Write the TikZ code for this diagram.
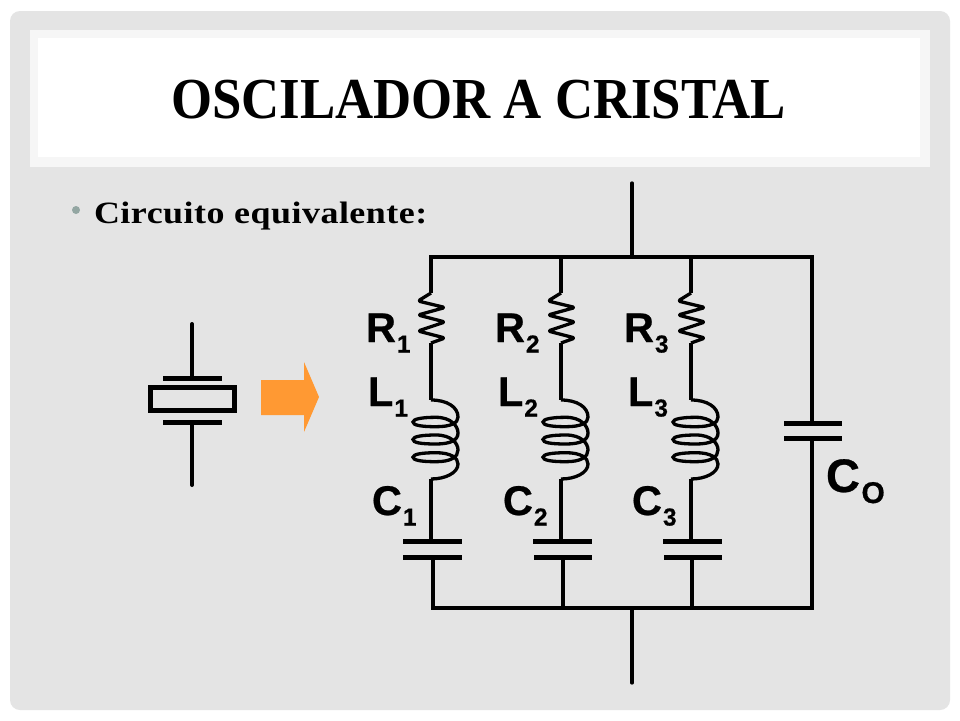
\documentclass[tikz,border=0pt]{standalone}
\usepackage{fontspec}
\setmainfont{Liberation Serif}
\setsansfont{Liberation Sans}
\newfontfamily\titlefont[FakeStretch=0.91]{Liberation Serif}
\newfontfamily\subfont[FakeStretch=1.16,LetterSpace=1.6]{Liberation Serif}
\newfontfamily\labfont[FakeBold=0.6]{Liberation Sans Bold}
\newcommand{\lab}[2]{{\fontsize{41.5}{41.5}\selectfont\labfont #1\kern 1pt\raisebox{-10.5pt}{\fontsize{24.5}{24.5}\selectfont #2}}}
\tikzset{
  x=1pt,y=-1pt,
  wire/.style={line width=3.3pt,line join=miter,draw=black},
  plate/.style={line width=5pt,draw=black},
  coilline/.style={line width=3.3pt,draw=black},
  lab node/.style={anchor=base west,inner sep=0pt,outer sep=0pt},
}
\definecolor{slidebg}{HTML}{E4E4E4}
\definecolor{bandbg}{HTML}{F6F6F6}
\definecolor{bulletc}{HTML}{93A6A2}
\definecolor{arrowc}{HTML}{FF9933}
\newcommand{\coilat}[1]{%
  \draw[coilline,shift={(#1)}] (0,0)
    .. controls (16,0) and (27,7) .. (27,17)
    .. controls (27,23) and (20,26.7) .. (5,26.7)
    .. controls (-11,26.7) and (-18,25) .. (-18,22)
    .. controls (-18,19) and (-9,17.3) .. (5,17.3)
    .. controls (20,17.3) and (27,26) .. (27,33)
    .. controls (27,40) and (20,44) .. (5,44)
    .. controls (-11,44) and (-18,42.5) .. (-18,39.5)
    .. controls (-18,36.5) and (-9,35) .. (5,35)
    .. controls (20,35) and (27,43) .. (27,50)
    .. controls (27,57) and (20,61.7) .. (5,61.7)
    .. controls (-11,61.7) and (-18,60) .. (-18,57.2)
    .. controls (-18,54.2) and (-9,52.7) .. (5,52.7)
    .. controls (20,52.7) and (27,58) .. (27,64)
    .. controls (27,73) and (14,79) .. (0,79);
}
\newcommand{\resat}[1]{%
  \draw[wire,line join=round,rounded corners=1.8pt,shift={(#1)}] (0,0)
    -- (-13,8) -- (14,14.5) -- (-13,22) -- (14,29) -- (-13,38) -- (14,45) -- (0,50);
}
\begin{document}
\begin{tikzpicture}
\useasboundingbox (0,0) rectangle (960,720);
\fill[white] (0,0) rectangle (960,720);
\fill[slidebg,rounded corners=10pt] (10,11) rectangle (950,710);
\fill[bandbg] (30,30) rectangle (930,167);
\fill[white] (38,38) rectangle (920,157);
\node[anchor=base,inner sep=0pt] (title) at (478.5,118) {\fontsize{58}{58}\selectfont\titlefont\bfseries OSCILADOR A CRISTAL};
\fill[bulletc] (76,210) circle (4);
\node[lab node] (sub) at (94,223) {\fontsize{31}{31}\selectfont\subfont\bfseries Circuito equivalente:};

% crystal
\coordinate (xt) at (192,324);
\coordinate (xu) at (192,378);
\coordinate (xl) at (192,422);
\coordinate (xb) at (192,485);
\draw[wire,line width=4pt,line cap=round] (xt) -- (xu);
\draw[wire,line width=4pt,line cap=round] (xl) -- (xb);
\draw[plate] (163,378) -- (222,378);
\draw[plate] (163,422) -- (222,422);
\draw[line width=5pt,draw=black,fill=slidebg] (150.5,387.5) rectangle (234,410);
\fill[arrowc] (261,380) -- (304,380) -- (304,362) -- (319,397) -- (304,432) -- (304,415) -- (261,415) -- cycle;

% rails and leads
\coordinate (tl) at (431,257);
\coordinate (tr) at (812,257);
\coordinate (bl) at (432,608);
\coordinate (br) at (812,608);
\coordinate (topin) at (632,183);
\coordinate (topj) at (632,257);
\coordinate (botin) at (632,683);
\coordinate (botj) at (632,608);
\draw[wire,line cap=round] (topin) -- (topj);
\draw[wire,line cap=round] (botin) -- (botj);
\draw[wire] (tl) -- (tr);
\draw[wire] (bl) -- (br);
\draw[wire] (431,255.4) -- (431,293);
\draw[wire] (561,257) -- (561,293);
\draw[wire] (691,257) -- (691,293);

% branches
\resat{431,293}\resat{561,293}\resat{691,293}
\draw[wire] (431,343) -- (431,400);
\draw[wire] (561,343) -- (561,400);
\draw[wire] (691,343) -- (691,400);
\coilat{431,400}\coilat{561,400}\coilat{691,400}
\draw[wire] (431,479) -- (431,541);
\draw[wire] (561,479) -- (561,541);
\draw[wire] (691,479) -- (691,541);
\draw[plate] (403,541) -- (462,541);
\draw[plate] (403,557) -- (462,557);
\draw[plate] (533,541) -- (592,541);
\draw[plate] (534,557) -- (592,557);
\draw[plate] (663,541) -- (722,541);
\draw[plate] (664,557) -- (722,557);
\draw[wire] (433,557) -- (433,609.6);
\draw[wire] (563,557) -- (563,608);
\draw[wire] (692,557) -- (692,608);

% C0
\draw[wire] (812,255.4) -- (812,423);
\draw[wire] (812,438) -- (812,609.6);
\draw[plate] (784,423) -- (842,423);
\draw[plate] (784,438) -- (842,438);

% labels
\node[lab node] (R1) at (366,342) {\lab{R}{1}};
\node[lab node] (R2) at (495,342) {\lab{R}{2}};
\node[lab node] (R3) at (624,342) {\lab{R}{3}};
\node[lab node] (L1) at (368,406) {\lab{L}{1}};
\node[lab node] (L2) at (498,406) {\lab{L}{2}};
\node[lab node] (L3) at (628,406) {\lab{L}{3}};
\node[lab node] (C1) at (372,515) {\lab{C}{1}};
\node[lab node] (C2) at (503,515) {\lab{C}{2}};
\node[lab node] (C3) at (632,515) {\lab{C}{3}};
\node[lab node] (C0) at (826,492) {{\fontsize{47}{47}\selectfont\labfont C\kern 1.5pt\raisebox{-11pt}{\fontsize{30}{30}\selectfont O}}};
\end{tikzpicture}
\end{document}
